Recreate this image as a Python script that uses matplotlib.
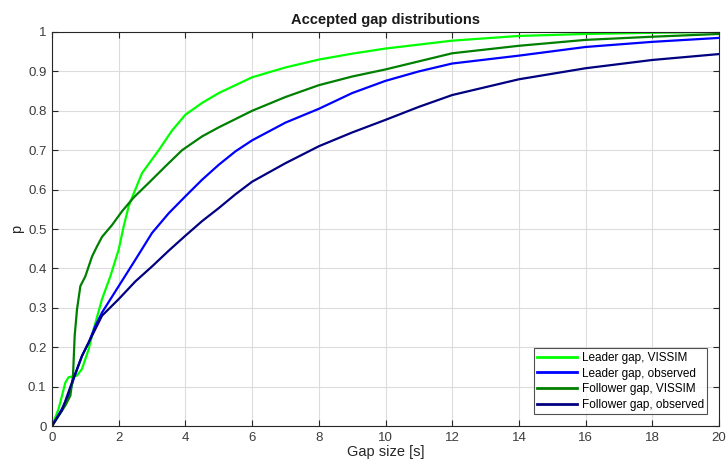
import numpy as np
import matplotlib.pyplot as plt

plt.rcParams['font.family'] = ['Liberation Sans', 'DejaVu Sans']

leader_vis_x = [0, 0.2, 0.4, 0.5, 0.75, 0.9, 1.1, 1.25, 1.5, 1.75, 2.0, 2.15, 2.3, 2.45, 2.7, 3.2, 3.6, 4.0, 4.5, 5.0, 6.0, 7.0, 8.0, 9.0, 10, 12, 14, 16, 18, 20]
leader_vis_y = [0, 0.044, 0.11, 0.124, 0.128, 0.145, 0.195, 0.246, 0.322, 0.38, 0.448, 0.507, 0.558, 0.59, 0.642, 0.70, 0.75, 0.79, 0.82, 0.845, 0.885, 0.91, 0.93, 0.945, 0.958, 0.978, 0.99, 0.995, 0.998, 1.0]

leader_obs_x = [0, 0.3, 0.5, 0.65, 0.9, 1.1, 1.3, 1.5, 2.0, 2.5, 3.0, 3.5, 4.0, 4.5, 5.0, 5.5, 6.0, 7.0, 8.0, 9.0, 10, 11, 12, 14, 16, 18, 20]
leader_obs_y = [0, 0.044, 0.077, 0.12, 0.178, 0.212, 0.254, 0.288, 0.355, 0.422, 0.49, 0.54, 0.583, 0.625, 0.663, 0.697, 0.725, 0.77, 0.805, 0.845, 0.876, 0.9, 0.92, 0.94, 0.962, 0.975, 0.985]

follower_vis_x = [0, 0.4, 0.55, 0.63, 0.68, 0.75, 0.85, 1.0, 1.2, 1.35, 1.5, 1.8, 2.1, 2.45, 2.9, 3.4, 3.9, 4.5, 5.0, 6.0, 7.0, 8.0, 9.0, 10, 12, 14, 16, 18, 20]
follower_vis_y = [0, 0.052, 0.077, 0.128, 0.229, 0.296, 0.355, 0.38, 0.43, 0.456, 0.48, 0.51, 0.545, 0.58, 0.617, 0.659, 0.70, 0.735, 0.758, 0.80, 0.835, 0.865, 0.887, 0.905, 0.946, 0.965, 0.98, 0.988, 0.995]

follower_obs_x = [0, 0.3, 0.6, 0.9, 1.2, 1.5, 2.0, 2.5, 3.0, 3.5, 4.0, 4.5, 5.0, 5.5, 6.0, 7.0, 8.0, 9.0, 10, 11, 12, 14, 16, 18, 20]
follower_obs_y = [0, 0.04, 0.111, 0.178, 0.229, 0.28, 0.322, 0.367, 0.405, 0.445, 0.483, 0.52, 0.553, 0.588, 0.62, 0.667, 0.71, 0.745, 0.777, 0.81, 0.84, 0.88, 0.908, 0.929, 0.944]

labels = ['Leader gap, VISSIM', 'Leader gap, observed', 'Follower gap, VISSIM', 'Follower gap, observed']
colors = ['#00ff00', '#0000ff', '#008000', '#000080']

fig = plt.figure(figsize=(7.26, 4.65), dpi=100)
ax = fig.add_axes([52 / 726, 39 / 465, 667 / 726, 394 / 465])

series = [(leader_vis_x, leader_vis_y), (leader_obs_x, leader_obs_y),
          (follower_vis_x, follower_vis_y), (follower_obs_x, follower_obs_y)]
for (xs, ys), lab, c in zip(series, labels, colors):
    ax.plot(xs, ys, color=c, lw=1.6, label=lab)

ax.set_xlim(0, 20)
ax.set_ylim(0, 1)
ax.set_xticks(np.arange(0, 21, 2))
ax.set_yticks(np.arange(0, 1.01, 0.1))
ax.set_yticklabels(['0', '0.1', '0.2', '0.3', '0.4', '0.5', '0.6', '0.7', '0.8', '0.9', '1'])
ax.grid(True, color='#dcdcdc', lw=0.8)
ax.set_axisbelow(True)
for s in ax.spines.values():
    s.set_color('#262626')
    s.set_linewidth(0.8)
ax.tick_params(direction='in', top=True, right=True, labelsize=9.5, colors='#262626',
               labelcolor='#3c3c3c', length=4, pad=4)
ax.set_xlabel('Gap size [s]', fontsize=10.5, color='#262626', labelpad=1)
ax.set_ylabel('p', fontsize=10.5, color='#262626', labelpad=3)
ax.set_title('Accepted gap distributions', fontsize=10.5, fontweight='bold', color='#1a1a1a', pad=6)

leg = ax.legend(loc='lower right', fontsize=8.5, frameon=True, fancybox=False,
                handlelength=3.4, borderaxespad=1.0, labelspacing=0.3,
                handletextpad=0.35, borderpad=0.3)
leg.get_frame().set_edgecolor('#262626')
leg.get_frame().set_linewidth(0.8)
for line in leg.get_lines():
    line.set_linewidth(2.0)

fig.savefig('out.png', dpi=100)
